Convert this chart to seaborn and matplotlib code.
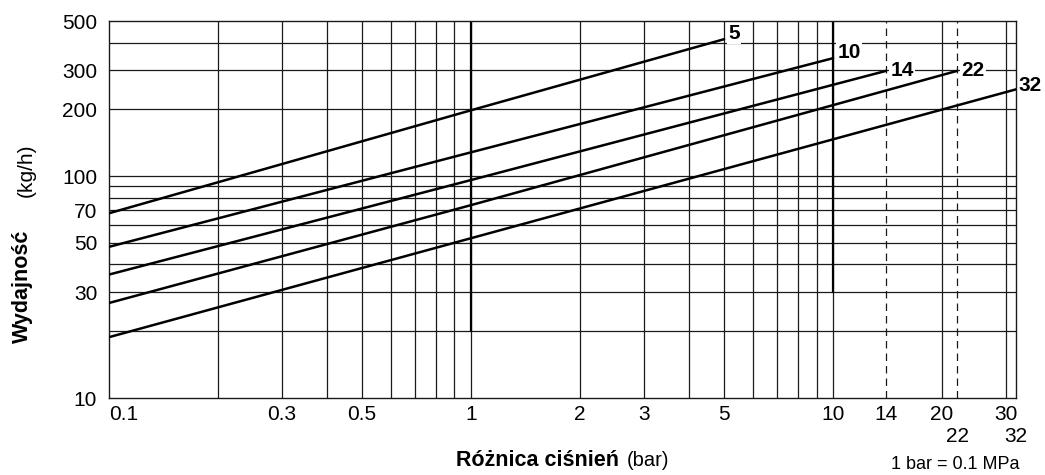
import matplotlib
matplotlib.use("Agg")
import matplotlib.pyplot as plt
import matplotlib.ticker as mticker
import pandas as pd
import seaborn as sns

# each curve is a straight line on log-log axes
sizes = ["5", "10", "14", "22", "32"]
dp_start = [0.1, 0.1, 0.1, 0.1, 0.1]
dp_mid = [1, 1, 1, 1, 1]
dp_end = [5, 10, 14, 22, 32]
flow_start = [68, 48, 36, 26.8, 18.8]
flow_mid = [198, 128, 96, 74, 52.5]
flow_end = [414, 340, 298, 298, 246]

x_ticks = [0.1, 0.3, 0.5, 1, 2, 3, 5, 10, 14, 20, 30]
x_ticks_2nd = [22, 32]
y_ticks = [10, 30, 50, 70, 100, 200, 300, 500]
x_grid = [0.2, 0.3, 0.4, 0.5, 0.6, 0.7, 0.8, 0.9, 1, 2, 3, 4, 5, 6, 7, 8, 9, 10, 20, 30]
x_grid_dashed = [14, 22]
y_grid = [20, 30, 40, 50, 60, 70, 80, 90, 100, 200, 300, 400]

rows = []
for s, x0, x1, x2, y0, y1, y2 in zip(sizes, dp_start, dp_mid, dp_end, flow_start, flow_mid, flow_end):
    for x, y in [(x0, y0), (x1, y1), (x2, y2)]:
        rows.append({"size": s, "dp": x, "flow": y})
df = pd.DataFrame(rows)

sns.set_style("white")
plt.rcParams["font.family"] = ["Liberation Sans", "DejaVu Sans"]
plt.rcParams["text.color"] = "black"

fig = plt.figure(figsize=(10.45, 4.75), dpi=100)
ax = fig.add_axes([109 / 1045, 1 - 398 / 475, (1016 - 109) / 1045, (398 - 21) / 475])
ax.set_xscale("log")
ax.set_yscale("log")
ax.set_xlim(0.1, 32)
ax.set_ylim(10, 500)

for v in x_grid:
    ax.axvline(v, color="#1a1a1a", lw=0.9, zorder=1)
for v in x_grid_dashed:
    ax.axvline(v, color="#1a1a1a", lw=0.9, ls=(0, (6, 4)), zorder=1)
for v in y_grid:
    ax.axhline(v, color="#1a1a1a", lw=0.9, zorder=1)
# heavier segments on the 1 bar and 10 bar lines
ax.plot([1, 1], [20, 500], color="black", lw=1.6, zorder=1)
ax.plot([10, 10], [30, 500], color="black", lw=1.6, zorder=1)

sns.lineplot(data=df, x="dp", y="flow", hue="size", units="size", estimator=None,
             sort=False, palette=["black"] * 5, legend=False, lw=1.8, ax=ax, zorder=3)

label_offsets = {"5": (3, 4), "10": (3, 4), "14": (3, 0), "22": (3, 0), "32": (2, 3)}
for s, x, y in zip(sizes, dp_end, flow_end):
    ax.annotate(s, (x, y), xytext=label_offsets[s], textcoords="offset points",
                ha="left", va="center", fontsize=15, fontweight="bold", color="black",
                zorder=4, bbox=dict(boxstyle="square,pad=0.05", fc="white", ec="none"))

for sp in ax.spines.values():
    sp.set_color("#1a1a1a")
    sp.set_linewidth(1.0)

ax.xaxis.set_major_locator(mticker.FixedLocator(x_ticks))
ax.xaxis.set_major_formatter(mticker.FixedFormatter([f"{v:g}" for v in x_ticks]))
ax.xaxis.set_minor_locator(mticker.FixedLocator(x_ticks_2nd))
ax.xaxis.set_minor_formatter(mticker.FixedFormatter([f"{v:g}" for v in x_ticks_2nd]))
ax.yaxis.set_major_locator(mticker.FixedLocator(y_ticks))
ax.yaxis.set_major_formatter(mticker.FixedFormatter([f"{v:g}" for v in y_ticks]))
ax.yaxis.set_minor_locator(mticker.NullLocator())
ax.tick_params(axis="both", which="both", length=0, labelsize=15, colors="black")
ax.tick_params(axis="x", which="major", pad=5)
ax.tick_params(axis="x", which="minor", pad=21)
ax.tick_params(axis="y", pad=8.5)
ax.set_xlabel("")
ax.set_ylabel("")
ax.get_xticklabels()[0].set_ha("left")

fig.text(22 / 1045, 1 - 286 / 475, "Wydajność", rotation=90, ha="center", va="center",
         fontsize=15.5, fontweight="bold")
fig.text(26 / 1045, 1 - 170 / 475, "(kg/h)", rotation=90, ha="center", va="center",
         fontsize=15)
fig.text(619 / 1045, 1 - 466 / 475, "Różnica ciśnień", ha="right", va="baseline",
         fontsize=15.5, fontweight="bold")
fig.text(627 / 1045, 1 - 466 / 475, "(bar)", ha="left", va="baseline", fontsize=14.5)
fig.text(891 / 1045, 1 - 469 / 475, "1 bar = 0.1 MPa", ha="left", va="baseline", fontsize=13)

fig.savefig("out.png", dpi=100)
